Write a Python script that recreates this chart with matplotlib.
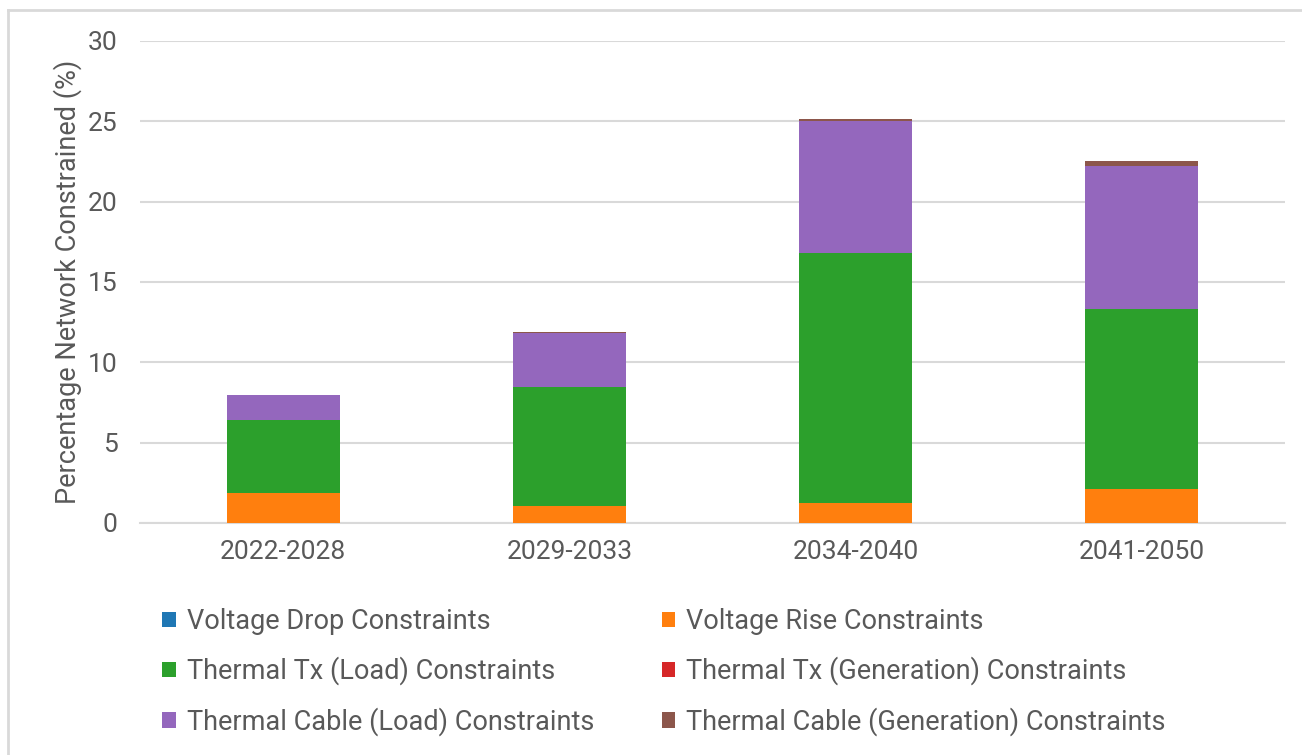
import matplotlib.pyplot as plt
import numpy as np

plt.rcParams['font.family'] = ['Roboto', 'DejaVu Sans']

periods = ['2022-2028', '2029-2033', '2034-2040', '2041-2050']
voltage_drop = [0.0, 0.0, 0.0, 0.0]
voltage_rise = [1.87, 1.06, 1.24, 2.12]
tx_load = [4.54, 7.40, 15.56, 11.20]
tx_gen = [0.0, 0.0, 0.0, 0.0]
cable_load = [1.56, 3.36, 8.20, 8.88]
cable_gen = [0.0, 0.06, 0.17, 0.30]

series = [
    ('Voltage Drop Constraints', voltage_drop, '#1f77b4'),
    ('Voltage Rise Constraints', voltage_rise, '#ff7f0e'),
    ('Thermal Tx (Load) Constraints', tx_load, '#2ca02c'),
    ('Thermal Tx (Generation) Constraints', tx_gen, '#d62728'),
    ('Thermal Cable (Load) Constraints', cable_load, '#9467bd'),
    ('Thermal Cable (Generation) Constraints', cable_gen, '#8c564b'),
]

txt = '#595959'
fig = plt.figure(figsize=(13.02, 7.55), dpi=100)
ax = fig.add_axes([0.1075, 0.3073, 0.8795, 0.6384])

x = np.arange(len(periods))
bottom = np.zeros(len(periods))
handles = []
for name, vals, col in series:
    b = ax.bar(x, vals, 0.395, bottom=bottom, color=col, label=name, zorder=3)
    handles.append(b)
    bottom += np.array(vals)

ax.set_xlim(-0.5, 3.5)
ax.set_ylim(0, 30)
ax.set_yticks(range(0, 31, 5))
ax.set_xticks(x)
ax.set_xticklabels(periods)
ax.yaxis.grid(True, color='#d9d9d9', linewidth=1.5, zorder=0)
for s in ['top', 'right', 'left']:
    ax.spines[s].set_visible(False)
ax.spines['bottom'].set_color('#d9d9d9')
ax.spines['bottom'].set_linewidth(1.5)
ax.tick_params(length=0, labelsize=19, colors=txt, pad=12)
ax.tick_params(axis='y', pad=16)
ax.set_ylabel('Percentage Network Constrained (%)', fontsize=19.5, color=txt, labelpad=4)

# row-wise legend: reorder for column-major filling
order = [0, 2, 4, 1, 3, 5]
fig.legend(handles=[handles[i] for i in order], loc='upper left', bbox_to_anchor=(0.106, 0.227),
           ncol=2, frameon=False, fontsize=19.5, labelcolor=txt,
           handlelength=0.5, handleheight=0.5, handletextpad=0.4,
           columnspacing=2.5, labelspacing=0.8)

# outer chart frame (left and top edges)
fig.add_artist(plt.Line2D([8 / 1302, 8 / 1302], [0, 1 - 10 / 755], color='#d9d9d9', lw=2, transform=fig.transFigure))
fig.add_artist(plt.Line2D([8 / 1302, 1], [1 - 10 / 755, 1 - 10 / 755], color='#d9d9d9', lw=2, transform=fig.transFigure))

fig.savefig('out.png', dpi=100)
